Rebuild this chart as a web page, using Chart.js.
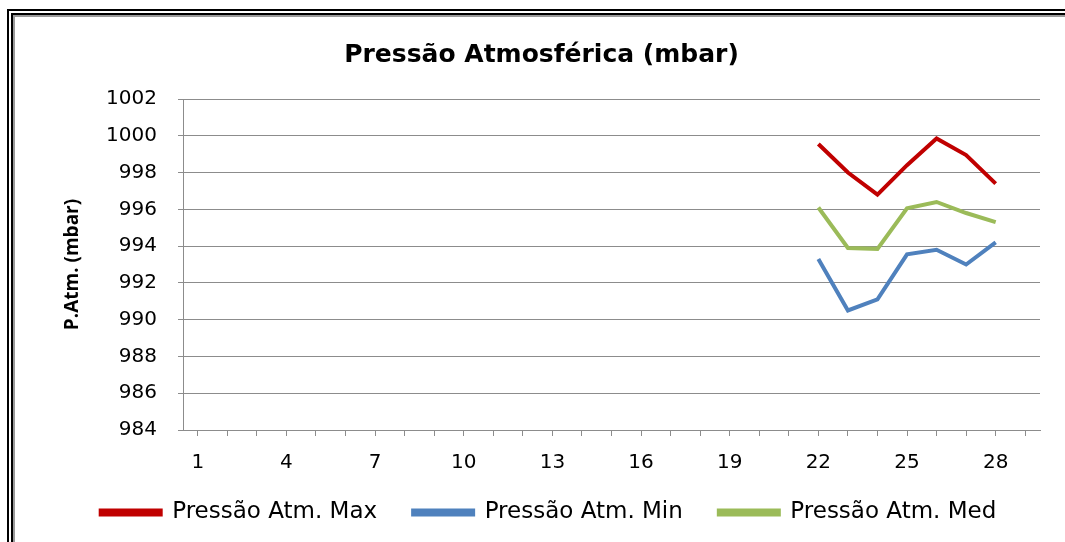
<!DOCTYPE html>
<html>
<head>
<meta charset="utf-8">
<script src="https://cdn.jsdelivr.net/npm/chart.js@4/dist/chart.umd.min.js"></script>
<style>
  html, body { margin: 0; padding: 0; background: #fff; overflow: hidden; }
  #wrap { position: relative; width: 1065px; height: 542px; }
  #frame { position: absolute; left: 7px; top: 9px; width: 1200px; height: 700px;
           border-left: 6px double #000; border-top: 6px double #000; }
  #frame2 { position: absolute; left: 0; top: 0; width: 100%; height: 100%;
            border-left: 2px solid #9a9a9a; border-top: 2px solid #9a9a9a; }
  canvas { position: absolute; left: 0; top: 0; }
</style>
</head>
<body>
<div id="wrap">
  <div id="frame"><div id="frame2"></div></div>
  <canvas id="chart" width="1065" height="542"></canvas>
</div>
<script>
// ── dados ─────────────────────────────────────────
const dias = Array.from({ length: 29 }, (_, i) => String(i + 1));
// dias 1..21 e 29 sem leitura
const pMax = [null,null,null,null,null,null,null,null,null,null,null,null,null,null,null,null,null,null,null,null,null,
  999.55, 998.0, 996.8, 998.4, 999.85, 998.95, 997.4, null];
const pMin = [null,null,null,null,null,null,null,null,null,null,null,null,null,null,null,null,null,null,null,null,null,
  993.3, 990.5, 991.1, 993.55, 993.8, 993.0, 994.2, null];
const pMed = [null,null,null,null,null,null,null,null,null,null,null,null,null,null,null,null,null,null,null,null,null,
  996.1, 993.9, 993.85, 996.05, 996.4, 995.8, 995.3, null];
const yMin = 984, yMax = 1002, yPasso = 2;

const FONTE = "'DejaVu Sans', sans-serif";
const cinza = '#8c8c8c';

const serie = (label, data, cor) => ({
  label, data, borderColor: cor, backgroundColor: cor,
  borderWidth: 4, pointRadius: 0, tension: 0, spanGaps: false
});

// ajuste fino: legenda um pouco acima, título um pouco à esquerda
const ajusteBlocos = {
  id: 'ajusteBlocos',
  afterLayout(chart) {
    if (chart.legend) { chart.legend.top -= 7; chart.legend.bottom -= 7; }
    if (chart.titleBlock) { chart.titleBlock.left -= 7; chart.titleBlock.right -= 7; }
  }
};

new Chart(document.getElementById('chart'), {
  type: 'line',
  data: {
    labels: dias,
    datasets: [
      serie('Pressão Atm. Max', pMax, '#c00000'),
      serie('Pressão Atm. Min', pMin, '#4f81bd'),
      serie('Pressão Atm. Med', pMed, '#9bbb59')
    ]
  },
  plugins: [ajusteBlocos],
  options: {
    responsive: false, animation: false,
    layout: { padding: { left: 57, right: 25, top: 40, bottom: 1 } },
    plugins: {
      title: {
        display: true, text: 'Pressão Atmosférica (mbar)', color: '#000',
        font: { family: FONTE, size: 25, weight: 'bold' }, padding: { top: 0, bottom: 29 }
      },
      legend: {
        position: 'bottom',
        labels: {
          color: '#000', font: { family: FONTE, size: 23 },
          boxWidth: 60, boxHeight: 4, padding: 36
        }
      },
      tooltip: { enabled: false }
    },
    scales: {
      x: {
        offset: true,
        afterFit: s => { s.height -= 18; },
        grid: { display: true, drawOnChartArea: false, drawTicks: true, tickLength: 6, color: cinza, offset: false },
        border: { color: cinza, width: 1 },
        ticks: {
          color: '#000', font: { family: FONTE, size: 20 }, autoSkip: false, maxRotation: 0, padding: 15,
          callback: (v, i) => (i % 3 === 0 ? dias[i] : '')
        }
      },
      y: {
        min: yMin, max: yMax,
        afterFit: s => { s.width = 126; },
        title: {
          display: true, text: 'P.Atm. (mbar)', color: '#000',
          font: { family: "'Open Sans', sans-serif", size: 19, weight: 'bold' }, padding: { bottom: 16 }
        },
        grid: { color: cinza, lineWidth: 1, tickLength: 5 },
        border: { color: cinza, width: 1 },
        ticks: {
          stepSize: yPasso, color: '#000', font: { family: FONTE, size: 20 }, padding: 21,
          callback: v => String(v)
        }
      }
    }
  }
});
</script>
</body>
</html>
